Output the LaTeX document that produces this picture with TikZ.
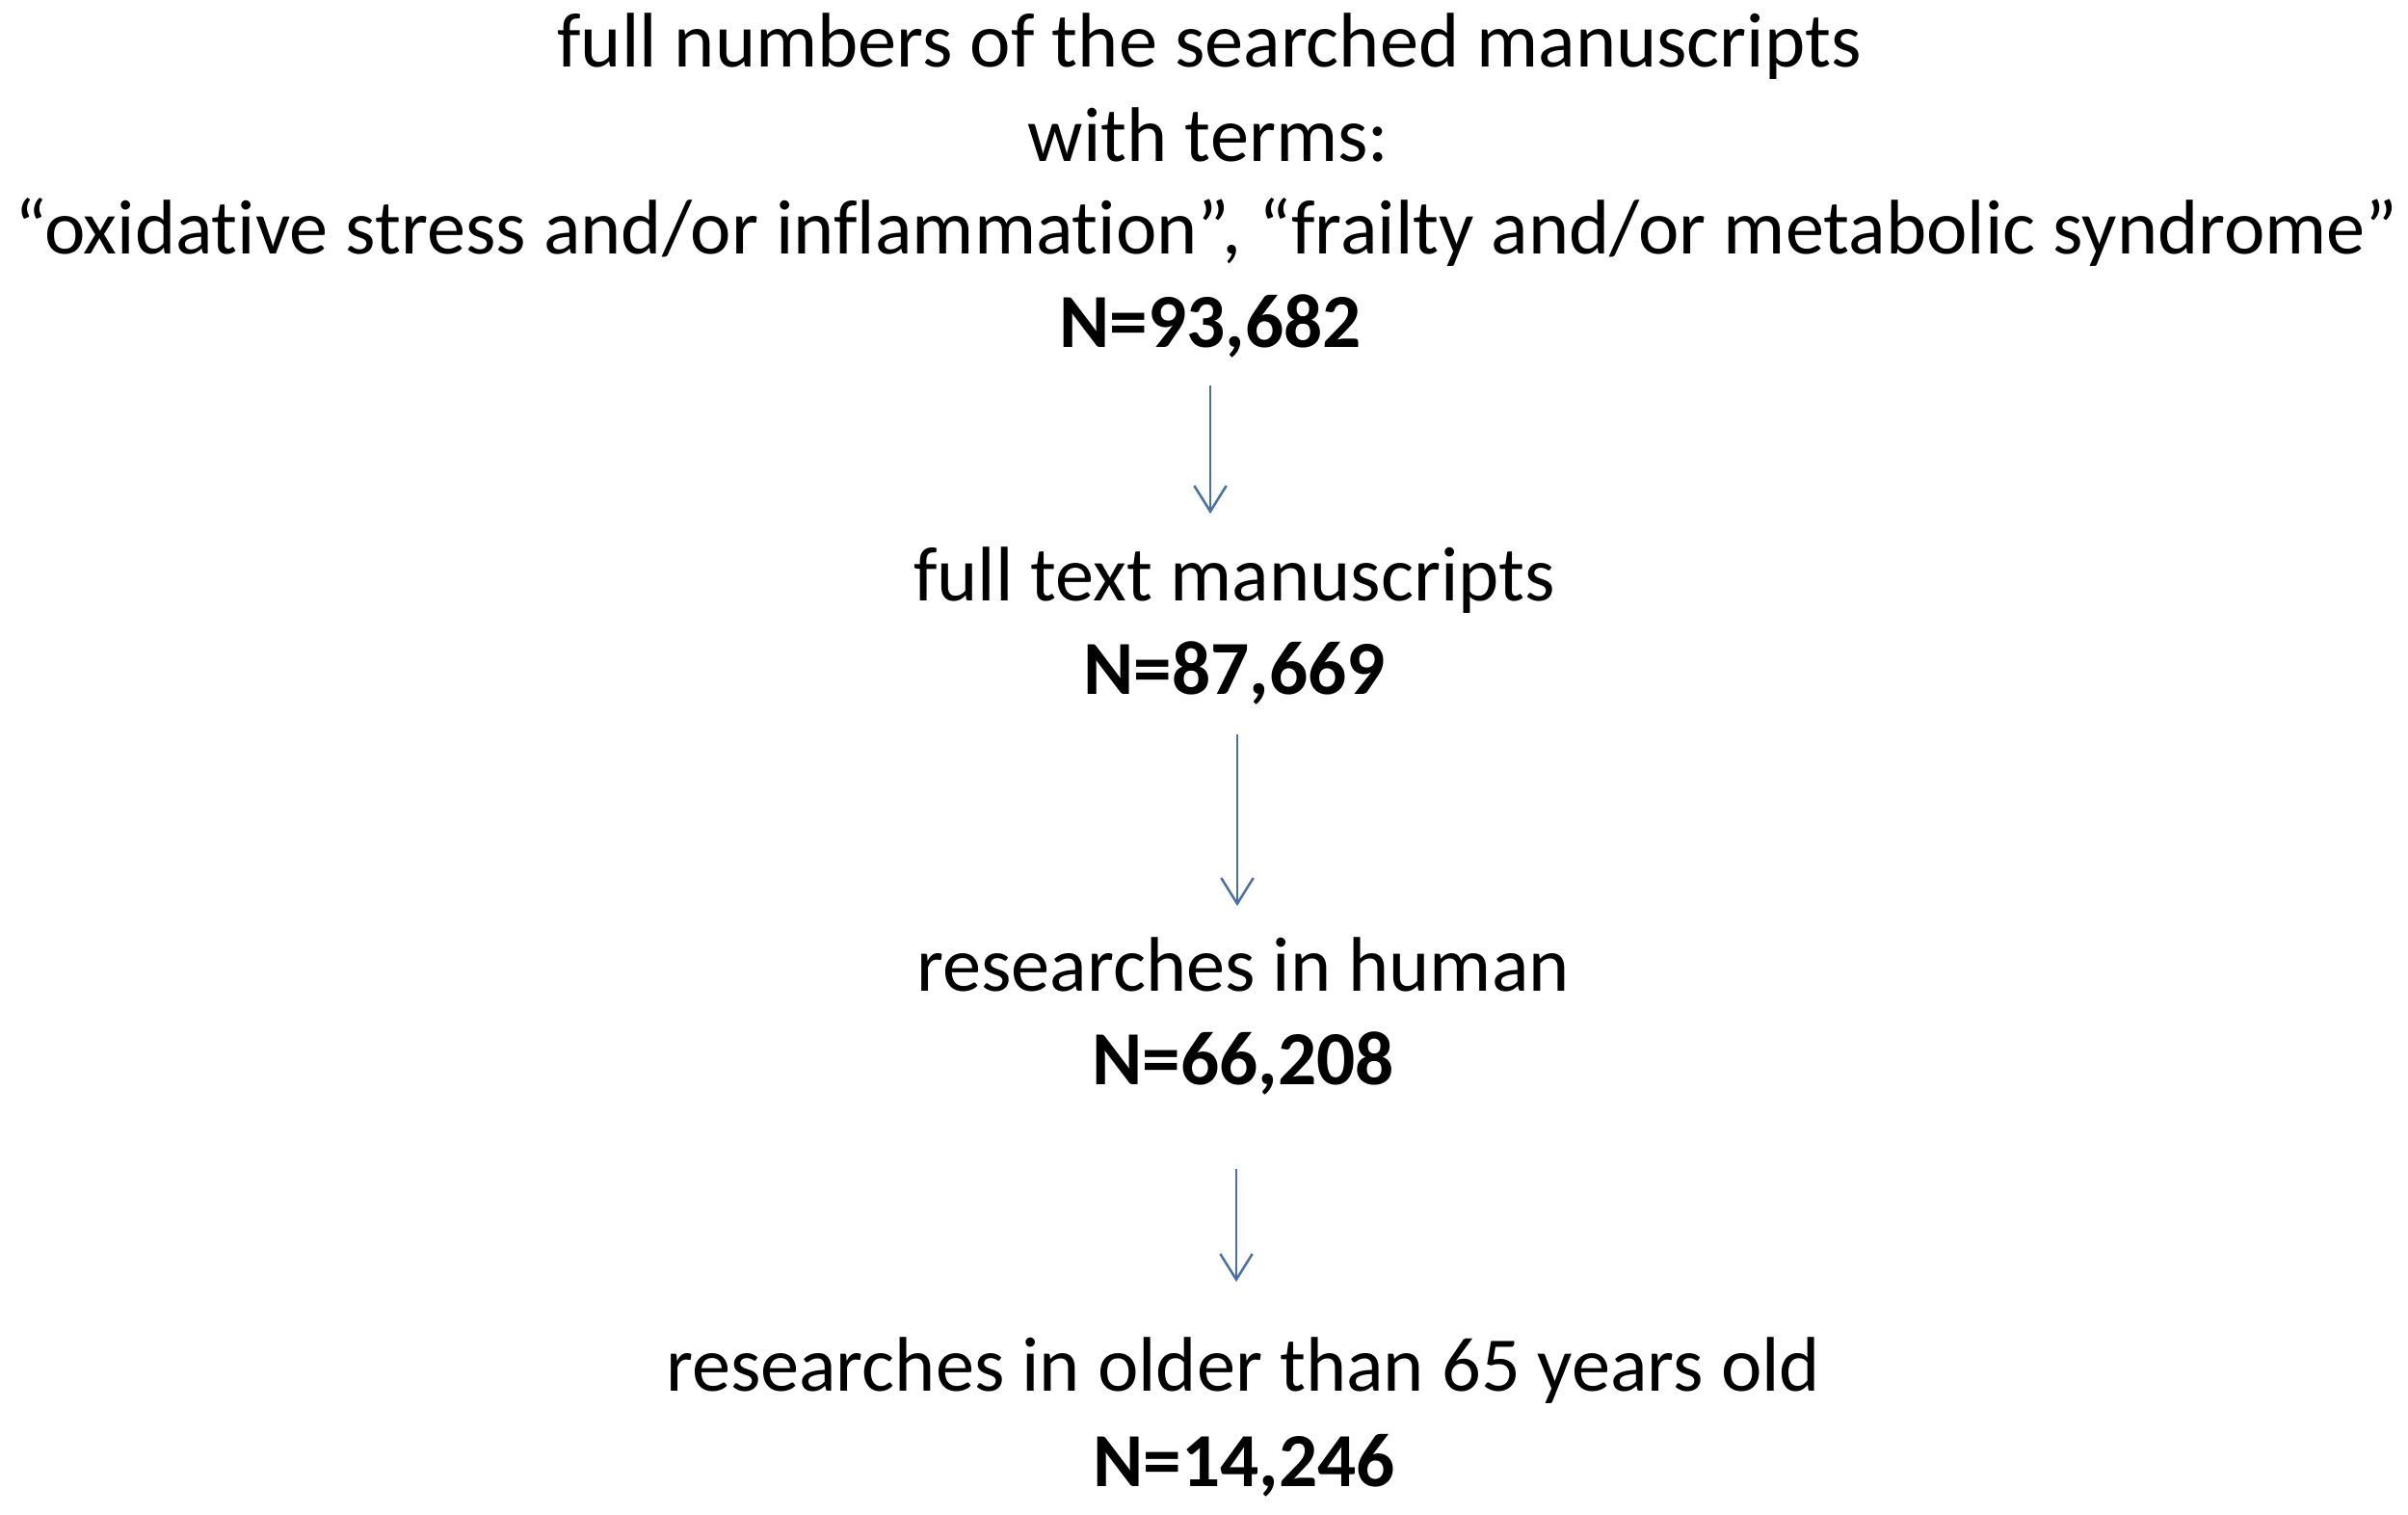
\documentclass[tikz,border=0pt]{standalone}
\usepackage{fontspec}
\setmainfont{Carlito}[Ligatures=NoCommon]
\usetikzlibrary{arrows.meta}
\newlength{\du}
\setlength{\du}{0.15pt}

\begin{document}
\begin{tikzpicture}[
  line/.style={inner sep=0pt, anchor=base, font=\fontsize{12.05pt}{14pt}\selectfont},
  count/.style={line, font=\fontsize{11.9pt}{14pt}\selectfont\bfseries},
  flow/.style={draw=dialinecolor, line width=0.375pt, -{Straight Barb[length=4pt,width=5pt]}}
]
\pgftransformxscale{1.000000}
\pgftransformyscale{-1.000000}
\definecolor{dialinecolor}{rgb}{0.290000, 0.440000, 0.650000}
\useasboundingbox (0\du,0\du) rectangle (2499\du,1571\du);
% searched manuscripts
\node[line] (search1) at (1255\du,70\du){full numbers of the searched manuscripts};
\node[line] (search2) at (1254\du,167\du){with terms:};
\node[line] (search3) at (1252\du,263\du){“oxidative stress and/or inflammation”, “frailty and/or metabolic syndrome”};
\node[count] (searchN) at (1256\du,360\du){N=93,682};
% full text
\node[line] (fulltext) at (1281\du,623\du){full text manuscripts};
\node[count] (fulltextN) at (1281\du,720\du){N=87,669};
% human
\node[line] (human) at (1290\du,1028\du){researches in human};
\node[count] (humanN) at (1290\du,1125\du){N=66,208};
% older than 65
\node[line] (older) at (1290\du,1443\du){researches in older than 65 years old};
\node[count] (olderN) at (1291\du,1542\du){N=14,246};
% arrows
\draw[flow] (searchN.base) ++(0\du,40\du) -- ++(0\du,133\du);
\draw[flow] (fulltextN.base) ++(3\du,42\du) -- ++(0\du,178\du);
\draw[flow] (humanN.base) ++(-7\du,88\du) -- ++(0\du,117\du);
\end{tikzpicture}
\end{document}
